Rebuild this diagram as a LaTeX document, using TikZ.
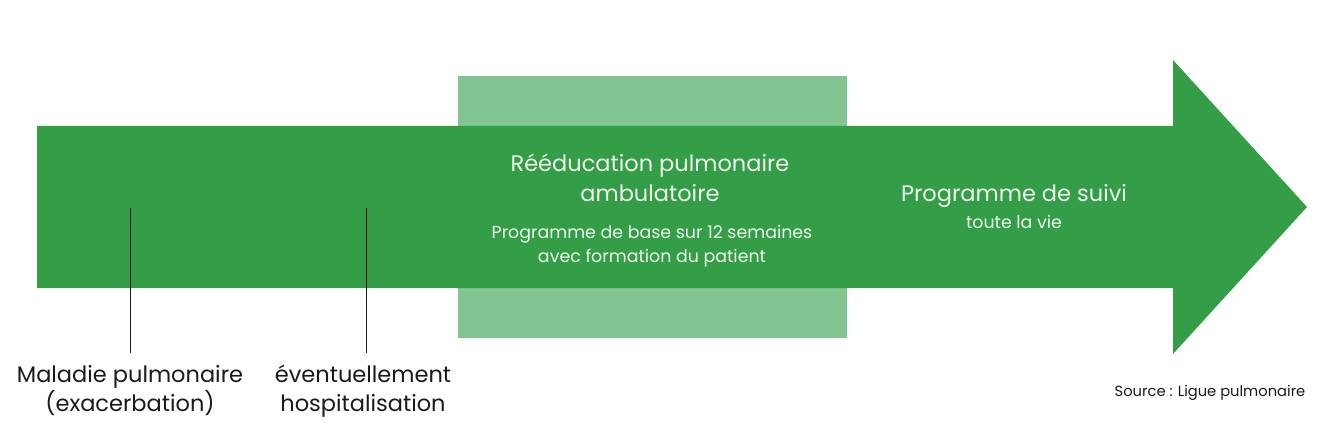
\documentclass[tikz,border=0pt]{standalone}
\usepackage{fontspec}
\setmainfont{Poppins}
\definecolor{dkgreen}{HTML}{339E47}
\definecolor{ltgreen}{HTML}{83C592}
\definecolor{paletxt}{HTML}{EEF6EA}
\definecolor{ink}{HTML}{1A1A1A}
\begin{document}
\begin{tikzpicture}[x=1pt,y=-1pt,
  big/.style={font=\fontsize{22.5}{30}\selectfont,text=paletxt,align=center,inner sep=0pt},
  small/.style={font=\fontsize{17.4}{24}\selectfont,text=paletxt,align=center,inner sep=0pt},
  lab/.style={font=\fontsize{22.5}{29}\selectfont,text=ink,align=center,inner sep=0pt},
  tick/.style={draw=ink,line width=0.9pt}]
\useasboundingbox (0,0) rectangle (1344,425);
\fill[ltgreen] (458,76) rectangle (847,338);
\fill[dkgreen] (37,126) -- (1173,126) -- (1173,60) -- (1307,207) -- (1173,354) -- (1173,288) -- (37,288) -- cycle;
\coordinate (t1a) at (130,208);
\coordinate (t1b) at (130,353);
\coordinate (t2a) at (366,208);
\coordinate (t2b) at (366,353);
\draw[tick] (t1a) -- (t1b);
\draw[tick] (t2a) -- (t2b);
\node[big] (reh) at (650,178) {Rééducation pulmonaire\\ambulatoire};
\node[small] (base) at (652,246) {Programme de base sur 12 semaines\\avec formation du patient};
\node[big] (suivi) at (1014,196) {Programme de suivi};
\node[small] (vie) at (1014,222) {toute la vie};
\node[lab] (mal) at (130,391) {Maladie pulmonaire\\(exacerbation)};
\node[lab] (hosp) at (363,391) {éventuellement\\hospitalisation};
\node[font=\fontsize{14.7}{16}\selectfont,text=ink,inner sep=0pt] (src) at (1210,393) {Source : Ligue pulmonaire};
\end{tikzpicture}
\end{document}
